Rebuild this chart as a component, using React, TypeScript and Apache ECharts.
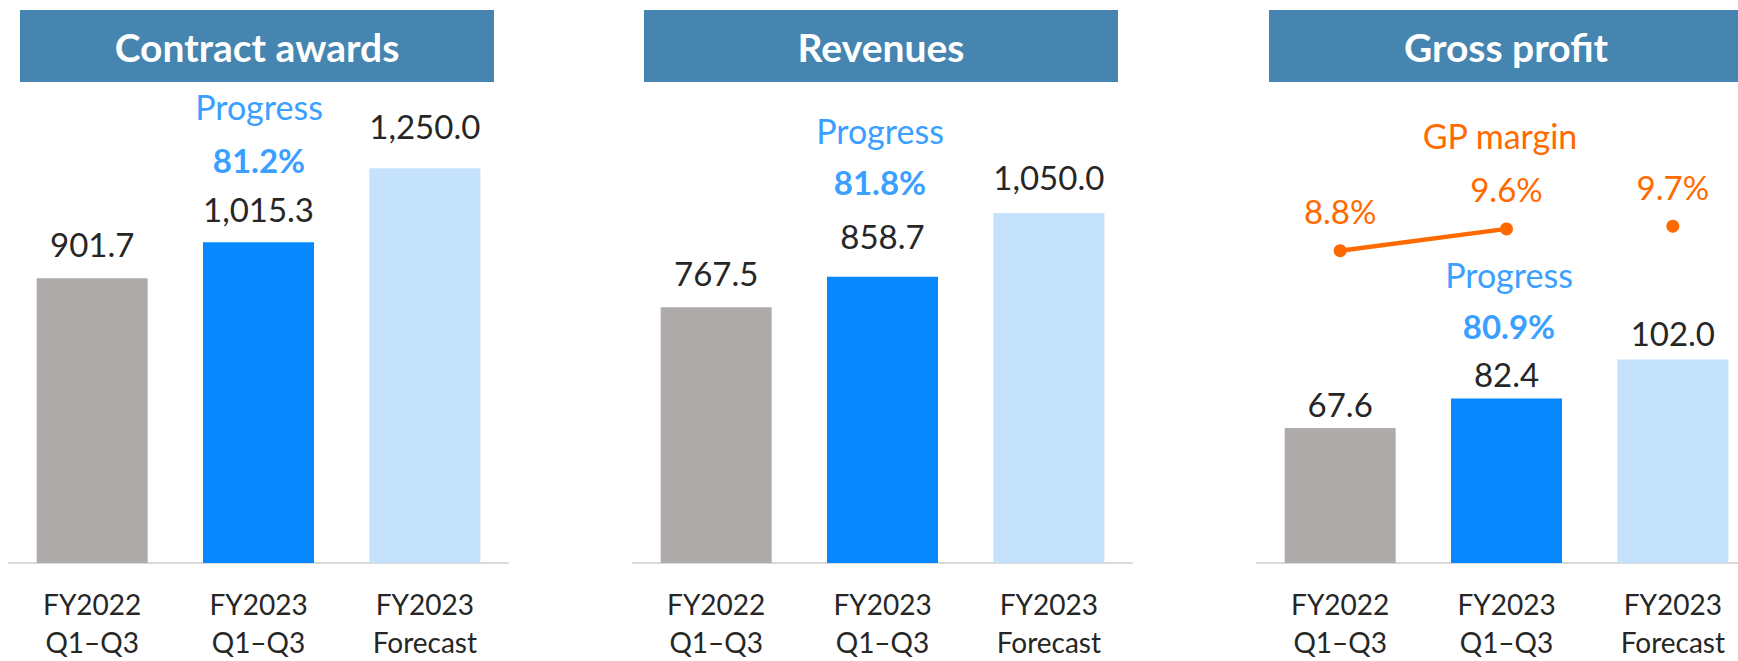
import React, { useEffect, useRef } from "react";
import * as echarts from "echarts";

const categories = ["FY2022\nQ1–Q3", "FY2023\nQ1–Q3", "FY2023\nForecast"];
const contractAwards = [901.7, 1015.3, 1250.0];
const revenues = [767.5, 858.7, 1050.0];
const grossProfit = [67.6, 82.4, 102.0];
const gpMargin = [8.8, 9.6, 9.7];
const progressLabels = ["81.2%", "81.8%", "80.9%"];
const panelTitles = ["Contract awards", "Revenues", "Gross profit"];

const FONT = "Lato, 'Noto Sans', sans-serif";
const BAR_COLORS = ["#AFABAB", "#0788FF", "#C5E2FD"];
const TEXT = "#262626";
const PROG = "#3A9FFF";
const ORANGE = "#FF6A00";
const TITLE_BG = "#4585B0";

const fmt = (v: number) =>
  v.toLocaleString("en-US", { minimumFractionDigits: 1, maximumFractionDigits: 1 });

function barSeries(values: number[], idx: number, distances: number[]) {
  return {
    type: "bar",
    xAxisIndex: idx,
    yAxisIndex: idx,
    barWidth: 111,
    data: values.map((v, i) => ({
      value: v,
      itemStyle: { color: BAR_COLORS[i] },
      label: { distance: distances[i] },
    })),
    label: {
      show: true,
      position: "top",
      formatter: (p: any) => fmt(p.value),
      fontSize: 33,
      fontFamily: FONT,
      color: TEXT,
    },
  };
}

export default function App() {
  const ref = useRef<HTMLDivElement>(null);
  useEffect(() => {
    if (!ref.current) return;
    const chart = echarts.init(ref.current, null, { renderer: "svg" });
    const grids = [
      { left: 9, top: 100, width: 499, height: 465 },
      { left: 633, top: 100, width: 499, height: 467 },
      { left: 1257, top: 100, width: 499, height: 467 },
    ];
    const xAxes = grids.map((_, i) => ({
      type: "category",
      gridIndex: i,
      data: categories,
      axisLine: { show: true, lineStyle: { color: "#D9D9D9", width: 2 } },
      axisTick: { show: false },
      axisLabel: {
        fontSize: 28,
        lineHeight: 38,
        margin: 22,
        color: TEXT,
        fontFamily: FONT,
      },
    }));
    const yMax = [1466, 1389, 232];
    const yAxes: any[] = grids.map((_, i) => ({
      type: "value",
      gridIndex: i,
      min: 0,
      max: yMax[i],
      show: false,
      splitLine: { show: false },
    }));
    yAxes.push({
      type: "value",
      gridIndex: 2,
      min: -2.6545,
      max: 14.327,
      show: false,
      splitLine: { show: false },
    });

    const actualMargin = gpMargin.map((v, i) => (i < 2 ? v : "-"));
    const forecastMargin = gpMargin.map((v, i) => (i === 2 ? v : "-"));
    const marginLabel = {
      show: true,
      position: "top",
      formatter: (p: any) => `${p.value}%`,
      fontSize: 33,
      fontFamily: FONT,
      color: ORANGE,
    };

    const titleX = [20, 644, 1269];
    const graphic: any[] = [];
    panelTitles.forEach((t, i) => {
      graphic.push({
        type: "rect",
        shape: { x: titleX[i], y: 10, width: 474, height: 72 },
        style: { fill: TITLE_BG },
        silent: true,
      });
      graphic.push({
        type: "text",
        x: titleX[i] + 237,
        y: 47,
        style: {
          text: t,
          fill: "#FFFFFF",
          font: `bold 39px ${FONT}`,
          textAlign: "center",
          textVerticalAlign: "middle",
        },
      });
    });
    const progPos = [
      [259, 106, 160],
      [880, 130, 182],
      [1509, 274, 326],
    ];
    progPos.forEach(([x, y1, y2], i) => {
      graphic.push({
        type: "text",
        x,
        y: y1,
        style: {
          text: "Progress",
          fill: PROG,
          font: `34px ${FONT}`,
          textAlign: "center",
          textVerticalAlign: "middle",
        },
      });
      graphic.push({
        type: "text",
        x,
        y: y2,
        style: {
          text: progressLabels[i],
          fill: PROG,
          font: `bold 33px ${FONT}`,
          textAlign: "center",
          textVerticalAlign: "middle",
        },
      });
    });
    graphic.push({
      type: "text",
      x: 1500,
      y: 135,
      style: {
        text: "GP margin",
        fill: ORANGE,
        font: `34px ${FONT}`,
        textAlign: "center",
        textVerticalAlign: "middle",
      },
    });

    chart.setOption({
      animation: false,
      backgroundColor: "#FFFFFF",
      grid: grids,
      xAxis: xAxes,
      yAxis: yAxes,
      graphic,
      series: [
        barSeries(contractAwards, 0, [18, 17, 26]),
        barSeries(revenues, 1, [18, 24, 20]),
        barSeries(grossProfit, 2, [8, 8, 10]),
        {
          type: "line",
          xAxisIndex: 2,
          yAxisIndex: 3,
          data: actualMargin,
          symbol: "circle",
          symbolSize: 13,
          showSymbol: true,
          lineStyle: { color: ORANGE, width: 4.5 },
          itemStyle: { color: ORANGE, opacity: 1 },
          label: { ...marginLabel, distance: 17 },
          z: 5,
        },
        {
          type: "scatter",
          xAxisIndex: 2,
          yAxisIndex: 3,
          data: forecastMargin,
          symbol: "circle",
          symbolSize: 13,
          itemStyle: { color: ORANGE, opacity: 1 },
          label: { ...marginLabel, distance: 16 },
          z: 5,
        },
      ],
    });
    return () => chart.dispose();
  }, []);
  return (
    <div
      ref={ref}
      style={{ position: "fixed", left: 0, top: 0, width: 1760, height: 661 }}
    />
  );
}
